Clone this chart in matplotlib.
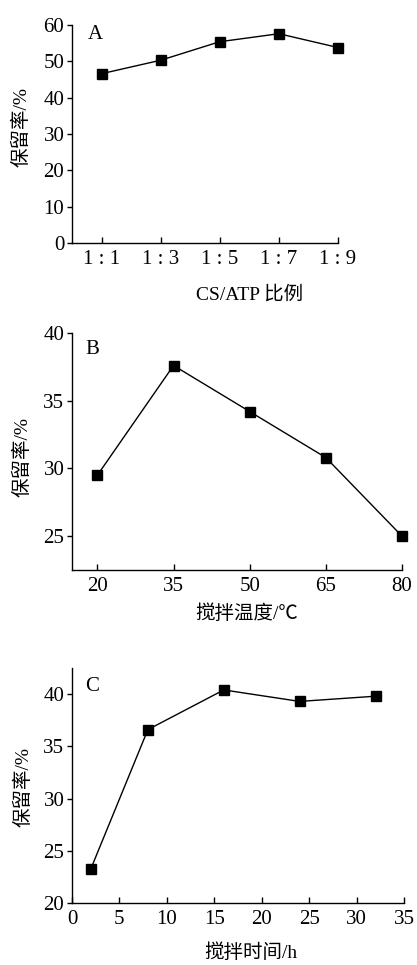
import matplotlib
matplotlib.use('Agg')
import matplotlib.pyplot as plt

plt.rcParams['font.family'] = ['Liberation Serif', 'Noto Sans CJK SC']
plt.rcParams['font.size'] = 15

# panel A
ratio_labels = ['1 : 1', '1 : 3', '1 : 5', '1 : 7', '1 : 9']
ratio_vals = [46.6, 50.3, 55.4, 57.6, 53.8]
# panel B
temp = [20, 35, 50, 65, 80]
temp_vals = [29.5, 37.6, 34.2, 30.8, 25.0]
# panel C
hours = [2, 8, 16, 24, 32]
hour_vals = [23.3, 36.6, 40.4, 39.3, 39.8]

W, H = 417, 965
fig = plt.figure(figsize=(W / 100, H / 100), dpi=100)

def add_ax(left, right, top, bottom):
    return fig.add_axes([left / W, 1 - bottom / H, (right - left) / W, (bottom - top) / H])

def px_text(x, y, s, **kw):
    fig.text(x / W, 1 - y / H, s, ha='center', va='center', **kw)

def style(ax):
    for s in ['top', 'right']:
        ax.spines[s].set_visible(False)
    for s in ['left', 'bottom']:
        ax.spines[s].set_linewidth(1.0)
    ax.tick_params(axis='y', direction='out', length=3.5, width=1, pad=2)
    ax.tick_params(axis='x', direction='in', length=4.5, width=1, pad=5)

line_kw = dict(color='black', lw=1.0, marker='s', markersize=7, clip_on=False)

axA = add_ax(72, 338, 25, 243)
axA.plot(range(5), ratio_vals, **line_kw)
axA.set_xlim(-0.5, 4)
axA.set_ylim(0, 60)
axA.set_yticks(range(0, 61, 10))
axA.set_xticks(range(5))
axA.set_xticklabels(ratio_labels)
axA.text(0.06, 1.0, 'A', transform=axA.transAxes, va='top', ha='left')

axB = add_ax(72, 402, 333, 570)
axB.plot(temp, temp_vals, **line_kw)
axB.set_xlim(15, 80)
axB.set_ylim(22.5, 40)
axB.set_xticks(temp)
axB.set_yticks([25, 30, 35, 40])
axB.text(0.04, 0.97, 'B', transform=axB.transAxes, va='top', ha='left')

axC = add_ax(72, 404, 668, 903)
axC.plot(hours, hour_vals, **line_kw)
axC.set_xlim(0, 35)
axC.set_ylim(20, 42.5)
axC.set_xticks(range(0, 36, 5))
axC.set_yticks(range(20, 41, 5))
axC.text(0.04, 0.96, 'C', transform=axC.transAxes, va='top', ha='left')

for ax in (axA, axB, axC):
    style(ax)

px_text(250, 295, 'CS/ATP 比例', fontsize=14)
px_text(247, 614, '搅拌温度/℃', fontsize=14)
px_text(251, 953, '搅拌时间/h', fontsize=14)
px_text(21, 127, '保留率/%', rotation=90, fontsize=14)
px_text(22, 457, '保留率/%', rotation=90, fontsize=14)
px_text(23, 787, '保留率/%', rotation=90, fontsize=14)

fig.savefig('out.png', dpi=100)
